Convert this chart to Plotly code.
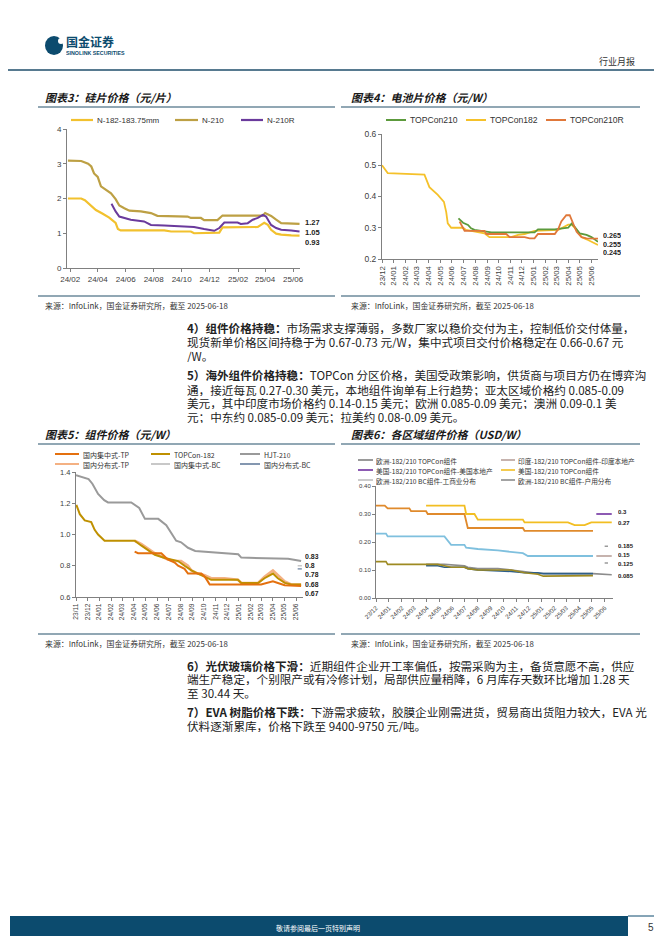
import plotly.graph_objects as go

W, H = 662, 936
def X(px): return px / W
def Y(py): return 1 - py / H

# ---------------- 图表3 硅片价格 ----------------
c3_n182_dates = ["2024-01-27","2024-02-25","2024-03-04","2024-03-18","2024-03-28","2024-04-11","2024-04-26","2024-05-10","2024-05-15","2024-05-21","2024-08-24","2024-09-08","2024-10-21","2024-10-28","2024-11-12","2024-11-19","2024-12-22","2024-12-29","2025-03-16","2025-03-23","2025-03-30","2025-04-07","2025-04-14","2025-04-25","2025-05-06","2025-05-28","2025-06-15"]
c3_n182_vals  = [2.0,2.0,1.95,1.8,1.67,1.57,1.45,1.3,1.12,1.08,1.08,1.05,1.05,1.0,1.0,1.02,1.02,1.17,1.18,1.24,1.30,1.24,1.10,0.99,0.96,0.94,0.93]
c3_n210_dates = ["2024-01-27","2024-02-25","2024-03-11","2024-03-18","2024-03-24","2024-04-01","2024-04-08","2024-04-19","2024-04-30","2024-05-10","2024-05-18","2024-05-29","2024-06-09","2024-07-04","2024-07-26","2024-08-09","2024-10-14","2024-10-21","2024-11-12","2024-11-19","2024-12-18","2024-12-29","2025-03-27","2025-04-01","2025-04-14","2025-04-25","2025-05-06","2025-06-15"]
c3_n210_vals  = [3.09,3.08,3.0,2.92,2.72,2.62,2.35,2.25,2.15,1.98,1.8,1.72,1.65,1.63,1.58,1.5,1.48,1.44,1.44,1.38,1.38,1.51,1.51,1.58,1.5,1.39,1.29,1.27]
c3_n210r_dates = ["2024-05-01","2024-05-10","2024-05-18","2024-05-29","2024-06-12","2024-07-11","2024-07-26","2024-08-24","2024-10-07","2024-10-28","2024-11-19","2024-12-11","2024-12-22","2025-01-02","2025-01-31","2025-02-07","2025-02-22","2025-03-05","2025-03-16","2025-03-27","2025-04-03","2025-04-14","2025-04-25","2025-05-06","2025-05-28","2025-06-15"]
c3_n210r_vals  = [1.85,1.63,1.48,1.44,1.39,1.34,1.24,1.22,1.20,1.18,1.12,1.07,1.15,1.31,1.31,1.27,1.29,1.39,1.44,1.53,1.48,1.24,1.15,1.10,1.08,1.05]
c3_names = ["N-182-183.75mm", "N-210", "N-210R"]
c3_end_labels = ["1.27", "1.05", "0.93"]

# ---------------- 图表4 电池片价格 ----------------
c4_t182_dates = ["2023-12-01","2023-12-16","2024-03-21","2024-03-30","2024-04-03","2024-04-25","2024-05-11","2024-05-17","2024-05-21","2024-05-30","2024-06-30","2024-07-08","2024-07-21","2024-08-25","2024-09-07","2024-11-03","2024-11-21","2024-12-08","2025-01-03","2025-03-06","2025-04-01","2025-04-10","2025-04-23","2025-05-06","2025-05-19","2025-06-01","2025-06-18"]
c4_t182_vals  = [0.50,0.475,0.47,0.445,0.43,0.405,0.383,0.35,0.314,0.30,0.30,0.293,0.29,0.282,0.27,0.27,0.277,0.28,0.29,0.293,0.31,0.31,0.293,0.27,0.263,0.255,0.245]
c4_t210_dates = ["2024-06-18","2024-06-30","2024-07-13","2024-07-21","2024-07-30","2024-08-25","2024-09-12","2025-01-03","2025-01-12","2025-02-25","2025-04-01","2025-04-10","2025-04-18","2025-05-01","2025-05-19","2025-06-01","2025-06-18"]
c4_t210_vals  = [0.33,0.316,0.309,0.298,0.293,0.287,0.285,0.285,0.295,0.295,0.30,0.313,0.303,0.282,0.277,0.27,0.255]
c4_t210r_dates = ["2024-06-21","2024-07-04","2024-08-25","2024-08-30","2024-10-21","2024-10-30","2024-12-08","2024-12-21","2025-01-03","2025-01-12","2025-02-25","2025-03-06","2025-03-14","2025-03-27","2025-04-05","2025-04-14","2025-04-23","2025-05-06","2025-05-19","2025-06-18"]
c4_t210r_vals  = [0.32,0.29,0.29,0.28,0.28,0.27,0.27,0.266,0.266,0.28,0.28,0.296,0.32,0.34,0.34,0.314,0.287,0.27,0.266,0.265]
c4_names = ["TOPCon210", "TOPCon182", "TOPCon210R"]
c4_end_labels = ["0.265", "0.255", "0.245"]

# ---------------- 图表5 组件价格 ----------------
c5_tp_c_dates = ["2024-04-03","2024-04-12","2024-06-12","2024-06-21","2024-06-29","2024-07-17","2024-07-26","2024-08-12","2024-08-21","2024-09-25","2024-10-04","2024-10-12","2024-10-17","2025-03-01","2025-03-19","2025-04-01","2025-04-14","2025-05-02","2025-06-14"]
c5_tp_c_vals  = [0.89,0.88,0.88,0.86,0.84,0.82,0.80,0.78,0.75,0.75,0.73,0.70,0.68,0.68,0.69,0.70,0.69,0.675,0.67]
c5_t182_dates = ["2023-11-02","2023-11-11","2023-11-24","2023-12-11","2023-12-20","2023-12-29","2024-01-15","2024-04-03","2024-04-20","2024-05-08","2024-05-26","2024-06-21","2024-07-08","2024-07-26","2024-08-12","2024-08-30","2024-09-16","2024-10-04","2024-10-21","2024-12-30","2025-01-08","2025-02-21","2025-03-10","2025-04-01","2025-04-14","2025-05-02","2025-05-19","2025-06-14"]
c5_t182_vals  = [1.19,1.13,1.09,1.08,1.03,1.0,0.96,0.96,0.93,0.90,0.87,0.85,0.84,0.83,0.80,0.77,0.75,0.73,0.71,0.71,0.69,0.69,0.72,0.75,0.72,0.69,0.68,0.68]
c5_hjt_dates = ["2023-11-01","2023-11-14","2023-12-04","2023-12-14","2023-12-29","2024-01-14","2024-01-24","2024-03-25","2024-04-15","2024-04-30","2024-06-04","2024-06-25","2024-07-08","2024-07-21","2024-08-03","2024-08-21","2024-09-09","2024-11-08","2024-12-31","2025-01-08","2025-05-11","2025-06-14"]
c5_hjt_vals  = [1.38,1.37,1.355,1.325,1.26,1.22,1.205,1.205,1.17,1.10,1.10,1.06,1.01,0.96,0.95,0.915,0.895,0.885,0.873,0.852,0.845,0.83]
c5_tp_d_dates = ["2024-04-03","2024-04-20","2024-05-08","2024-05-26","2024-06-12","2024-06-29","2024-07-17","2024-08-03","2024-08-21","2024-08-30","2024-09-16","2024-10-04","2024-10-21","2024-11-25","2024-12-30","2025-01-08","2025-02-21","2025-03-10","2025-04-01","2025-04-14","2025-05-02","2025-05-19","2025-06-14"]
c5_tp_d_vals  = [0.96,0.94,0.91,0.88,0.86,0.84,0.83,0.83,0.80,0.77,0.75,0.74,0.72,0.72,0.71,0.69,0.69,0.73,0.77,0.74,0.70,0.68,0.68]
c5_bc_c_dates = ["2025-06-05","2025-06-16"]
c5_bc_c_vals  = [0.80,0.80]
c5_bc_d_dates = ["2025-06-05","2025-06-16"]
c5_bc_d_vals  = [0.78,0.78]
c5_names = ["国内集中式-TP", "TOPCon-182", "HJT-210", "国内分布式-TP", "国内集中式-BC", "国内分布式-BC"]
c5_end_labels = ["0.83", "0.8", "0.78", "0.68", "0.67"]

# ---------------- 图表6 各区域组件价格 ----------------
c6_orange_dates = ["2023-12-01","2023-12-22","2023-12-29","2024-02-19","2024-02-23","2024-03-30","2024-04-03","2024-06-30","2024-07-08","2024-11-17","2024-11-21","2025-05-04"]
c6_orange_vals  = [0.33,0.33,0.32,0.32,0.31,0.31,0.30,0.30,0.25,0.25,0.24,0.24]
c6_yellow_dates = ["2024-03-30","2024-06-30","2024-07-04","2024-07-24","2024-08-01","2024-11-17","2024-11-21","2025-03-05","2025-03-21","2025-04-14","2025-04-30","2025-06-18"]
c6_yellow_vals  = [0.33,0.33,0.30,0.30,0.28,0.28,0.27,0.27,0.26,0.26,0.27,0.27]
c6_blue_dates = ["2023-12-01","2023-12-25","2023-12-29","2024-05-13","2024-05-29","2024-06-30","2024-07-04","2024-08-01","2024-09-18","2024-10-20","2024-11-17","2024-11-29","2025-05-04"]
c6_blue_vals  = [0.23,0.23,0.22,0.22,0.19,0.19,0.18,0.175,0.17,0.165,0.16,0.15,0.15]
c6_olive_dates = ["2023-12-01","2023-12-25","2023-12-29","2024-04-27","2024-05-13","2024-05-29","2024-06-30","2024-07-08","2024-08-01","2024-10-20","2024-11-21","2024-12-23","2025-01-05","2025-03-05","2025-03-13","2025-05-04"]
c6_olive_vals  = [0.13,0.13,0.12,0.12,0.115,0.11,0.11,0.105,0.10,0.10,0.09,0.085,0.078,0.078,0.08,0.08]
c6_navy_dates = ["2024-03-30","2024-04-27","2024-05-13","2024-06-30","2024-07-08","2024-08-01","2024-10-20","2024-11-21","2024-12-23","2025-01-05","2025-05-04"]
c6_navy_vals  = [0.115,0.115,0.11,0.11,0.105,0.10,0.095,0.09,0.09,0.087,0.087]
c6_grey_dates = ["2024-03-30","2024-05-13","2024-06-30","2024-07-08","2024-08-01","2024-09-18","2024-10-20","2024-11-21","2024-12-23","2025-05-04","2025-06-18"]
c6_grey_vals  = [0.12,0.12,0.115,0.11,0.105,0.105,0.10,0.095,0.088,0.087,0.083]
c6_us_local_dates = ["2025-05-12","2025-06-18"]
c6_us_local_vals  = [0.30,0.30]
c6_in_local_dates = ["2025-05-12","2025-06-18"]
c6_in_local_vals  = [0.15,0.15]
c6_dash1_dates = ["2025-06-01","2025-06-09"]
c6_dash1_vals  = [0.185,0.185]
c6_dash2_dates = ["2025-06-01","2025-06-09"]
c6_dash2_vals  = [0.125,0.125]
c6_names = ["欧洲-182/210 TOPCon组件", "印度-182/210 TOPCon组件-印度本地产",
            "美国-182/210 TOPCon组件-美国本地产", "美国-182/210 TOPCon组件",
            "欧洲-182/210 BC组件-工商业分布", "欧洲-182/210 BC组件-户用分布"]
c6_end_labels = ["0.3", "0.27", "0.185", "0.15", "0.125", "0.085"]

SOURCE = "来源：InfoLink，国金证券研究所，截至 2025-06-18"

# ---------------- figure ----------------
fig = go.Figure()
CJK = "Noto Sans CJK SC"
LAT = "Liberation Sans, Arial"

def line(xs, ys, color, width, ax):
    fig.add_trace(go.Scatter(x=xs, y=ys, mode="lines", line=dict(color=color, width=width),
                             xaxis="x" + ax, yaxis="y" + ax, showlegend=False, hoverinfo="skip"))

C3 = ["#F2C12E", "#BDA044", "#6A3A9C"]
line(c3_n210_dates, c3_n210_vals, C3[1], 2.2, "")
line(c3_n182_dates, c3_n182_vals, C3[0], 2.2, "")
line(c3_n210r_dates, c3_n210r_vals, C3[2], 2.0, "")

C4 = ["#5C9A3C", "#F5C12A", "#E0783A"]
line(c4_t182_dates, c4_t182_vals, C4[1], 1.8, "2")
line(c4_t210_dates, c4_t210_vals, C4[0], 1.8, "2")
line(c4_t210r_dates, c4_t210r_vals, C4[2], 1.8, "2")

C5 = ["#E4700E", "#BF9000", "#9A9A9A", "#F4B183", "#C8C8C8", "#8497B0"]
line(c5_hjt_dates, c5_hjt_vals, C5[2], 2.0, "3")
line(c5_tp_d_dates, c5_tp_d_vals, C5[3], 2.6, "3")
line(c5_t182_dates, c5_t182_vals, C5[1], 2.0, "3")
line(c5_tp_c_dates, c5_tp_c_vals, C5[0], 2.0, "3")
line(c5_bc_c_dates, c5_bc_c_vals, C5[4], 1.5, "3")
line(c5_bc_d_dates, c5_bc_d_vals, C5[5], 1.5, "3")

C6 = ["#808080", "#B8A09A", "#7030A0", "#F2BE22", "#BFBFBF", "#8C8C8C"]
line(c6_orange_dates, c6_orange_vals, "#E08A2C", 1.8, "4")
line(c6_yellow_dates, c6_yellow_vals, "#F2BE22", 1.8, "4")
line(c6_blue_dates, c6_blue_vals, "#7FC0DE", 1.8, "4")
line(c6_grey_dates, c6_grey_vals, "#8C8C8C", 1.6, "4")
line(c6_navy_dates, c6_navy_vals, "#2E5F8A", 1.6, "4")
line(c6_olive_dates, c6_olive_vals, "#9E8A22", 1.6, "4")
line(c6_us_local_dates, c6_us_local_vals, "#7030A0", 1.6, "4")
line(c6_in_local_dates, c6_in_local_vals, "#B8A09A", 1.6, "4")
line(c6_dash1_dates, c6_dash1_vals, "#808080", 1.2, "4")
line(c6_dash2_dates, c6_dash2_vals, "#808080", 1.2, "4")

def axis(**kw):
    base = dict(showgrid=False, zeroline=False, showline=True, linecolor="#808080", linewidth=1,
                ticks="outside", ticklen=3, tickcolor="#808080", automargin=False,
                tickfont=dict(family=LAT, size=8, color="#404040"), fixedrange=True)
    base.update(kw)
    return base

fig.update_layout(
    width=W, height=H, margin=dict(l=0, r=0, t=0, b=0), template="none",
    paper_bgcolor="white", plot_bgcolor="rgba(0,0,0,0)", font=dict(family=LAT),
    xaxis=axis(domain=[X(59), X(292)], anchor="y", type="date", range=["2024-01-25", "2025-06-16"],
               tick0="2024-02-01", dtick="M2", tickformat="%y/%m"),
    yaxis=axis(domain=[Y(260), Y(121)], anchor="x", range=[0, 4], dtick=1),
    xaxis2=axis(domain=[X(374), X(590)], anchor="y2", type="date", range=["2023-12-01", "2025-06-18"],
                tick0="2023-12-01", dtick="M1", tickformat="%y/%m", tickangle=-90,
                tickfont=dict(family=LAT, size=7.8, color="#404040")),
    yaxis2=axis(domain=[Y(251), Y(126)], anchor="x2", range=[0.2, 0.6], dtick=0.1, tickformat=".1f",
                tickfont=dict(family=LAT, size=8.5, color="#404040")),
    xaxis3=axis(domain=[X(68), X(295)], anchor="y3", type="date", range=["2023-11-01", "2025-06-19"],
                tick0="2023-11-01", dtick="M1", tickformat="%y/%m", tickangle=-90,
                tickfont=dict(family=LAT, size=6.6, color="#404040")),
    yaxis3=axis(domain=[Y(589), Y(464)], anchor="x3", range=[0.6, 1.4], dtick=0.2, tickformat=".1f",
                tickfont=dict(family=LAT, size=7.5, color="#404040")),
    xaxis4=axis(domain=[X(368), X(605)], anchor="y4", type="date", range=["2023-12-01", "2025-06-21"],
                tick0="2023-12-01", dtick="M1", tickformat="%y/%m", tickangle=-45,
                tickfont=dict(family=LAT, size=6.2, color="#404040")),
    yaxis4=axis(domain=[Y(590), Y(478)], anchor="x4", range=[0, 0.4], dtick=0.1, tickformat=".2f",
                tickfont=dict(family=LAT, size=6, color="#404040")),
)

ann = []
shapes = []
def text(px, py, s, size, color="#333333", family=CJK, anchor="left", h=None):
    a = dict(x=X(px), y=Y(py), xref="paper", yref="paper", text=s, showarrow=False, borderpad=0,
             xanchor=anchor, yanchor="middle", font=dict(family=family, size=size, color=color))
    if h is not None:
        a["height"] = h
        a["valign"] = "middle"
    ann.append(a)
def hline(x0, x1, py, color, width):
    shapes.append(dict(type="line", xref="paper", yref="paper", x0=X(x0), x1=X(x1), y0=Y(py), y1=Y(py),
                       line=dict(color=color, width=width)))

NAVY = "#0C4B6E"
# header
shapes.append(dict(type="circle", xref="paper", yref="paper", x0=X(37), x1=X(55), y0=Y(47), y1=Y(28),
                   fillcolor=NAVY, line=dict(width=0)))
shapes.append(dict(type="circle", xref="paper", yref="paper", x0=X(50), x1=X(56), y0=Y(36), y1=Y(30),
                   fillcolor="white", line=dict(width=0)))
text(57, 34, "<b>国金证券</b>", 12, NAVY, CJK, "left", 13)
text(57, 45.5, "<b>SINOLINK SECURITIES</b>", 5.3, NAVY, LAT, "left", 6.5)
text(628, 53, "行业月报", 9, "#333333", CJK, "right")
hline(0, 662, 62, "#1F4E6B", 1.5)

# chart titles & separators
TEAL = "#24506A"
text(36, 89, "<b><i>图表3：硅片价格（元/片）</i></b>", 11, "#1a1a1a")
text(342, 89, "<b><i>图表4：电池片价格（元/W）</i></b>", 11, "#1a1a1a")
hline(30, 327, 99, TEAL, 1.2)
hline(333, 632, 99, TEAL, 1.2)
hline(30, 327, 288, TEAL, 1.2)
hline(333, 632, 288, TEAL, 1.2)
text(36, 297, SOURCE, 7.9, "#333333")
text(342, 297, SOURCE, 7.9, "#333333")

text(36, 426, "<b><i>图表5：组件价格（元/W）</i></b>", 11, "#1a1a1a")
text(342, 426, "<b><i>图表6：各区域组件价格（USD/W）</i></b>", 11, "#1a1a1a")
hline(30, 327, 436, TEAL, 1.2)
hline(333, 632, 436, TEAL, 1.2)
hline(30, 327, 626, TEAL, 1.2)
hline(333, 632, 626, TEAL, 1.2)
text(36, 635, SOURCE, 7.9, "#333333")
text(342, 635, SOURCE, 7.9, "#333333")

# legends chart 3
leg3 = [(63, 85, 88), (167, 190, 193), (233, 255, 258)]
for (a, b, t), n, c in zip(leg3, c3_names, C3):
    hline(a, b, 112, c, 2.2)
    text(t, 112, n, 8, "#333333", LAT)
# legends chart 4
leg4 = [(378, 398, 401), (458, 478, 481), (538, 558, 561)]
for (a, b, t), n, c in zip(leg4, c4_names, C4):
    hline(a, b, 112, c, 2.0)
    text(t, 112, n, 8.6, "#333333", LAT)
# legends chart 5
leg5 = [(47, 71, 74, 446), (143, 162, 165, 446), (232, 252, 255, 446),
        (47, 71, 74, 456), (143, 162, 165, 456), (232, 252, 255, 456)]
for (a, b, t, yy), n, c in zip(leg5, c5_names, C5):
    hline(a, b, yy, c, 2.0)
    text(t, yy, n, 7, "#333333", CJK, "left", 9)
# legends chart 6
leg6 = [(350, 365, 367, 452), (493, 507, 509, 452), (350, 365, 367, 462),
        (493, 507, 509, 462), (350, 365, 367, 472), (493, 507, 509, 472)]
for (a, b, t, yy), n, c in zip(leg6, c6_names, C6):
    hline(a, b, yy, c, 1.6)
    text(t, yy, n, 6.7, "#333333", CJK, "left", 9)

# end labels
for s, yy in zip(c3_end_labels, [215, 224.5, 234]):
    text(296, yy, "<b>" + s + "</b>", 7.6, "#222222", LAT, "left", 8.5)
for s, yy in zip(c4_end_labels, [227, 235.5, 244]):
    text(594, yy, "<b>" + s + "</b>", 7.2, "#222222", LAT, "left", 8)
for s, yy in zip(c5_end_labels, [547.5, 556.5, 565.5, 576, 584.5]):
    text(296, yy, "<b>" + s + "</b>", 7, "#222222", LAT, "left", 8)
for s, yy in zip(c6_end_labels, [504, 515, 538, 547, 556, 568]):
    text(609, yy, "<b>" + s + "</b>", 6, "#222222", LAT, "left", 8)

# paragraphs
P = 11.6
para = [
    (319, "<b>4）组件价格持稳：</b>市场需求支撑薄弱，多数厂家以稳价交付为主，控制低价交付体量，"),
    (333, "现货新单价格区间持稳于为 0.67-0.73 元/W，集中式项目交付价格稳定在 0.66-0.67 元"),
    (347, "/W。"),
    (367, "<b>5）海外组件价格持稳：</b>TOPCon 分区价格，美国受政策影响，供货商与项目方仍在博弈沟"),
    (381, "通，接近每瓦 0.27-0.30 美元，本地组件询单有上行趋势；亚太区域价格约 0.085-0.09"),
    (394.5, "美元，其中印度市场价格约 0.14-0.15 美元；欧洲 0.085-0.09 美元；澳洲 0.09-0.1 美"),
    (408, "元；中东约 0.085-0.09 美元；拉美约 0.08-0.09 美元。"),
    (657, "<b>6）光伏玻璃价格下滑：</b>近期组件企业开工率偏低，按需采购为主，备货意愿不高，供应"),
    (670.5, "端生产稳定，个别限产或有冷修计划，局部供应量稍降，6 月库存天数环比增加 1.28 天"),
    (684, "至 30.44 天。"),
    (703.5, "<b>7）EVA 树脂价格下跌：</b>下游需求疲软，胶膜企业刚需进货，贸易商出货阻力较大，EVA 光"),
    (717, "伏料逐渐累库，价格下跌至 9400-9750 元/吨。"),
]
for yy, s in para:
    text(178, yy, s, P, "#222222", CJK, "left", 13)

# footer
shapes.append(dict(type="rect", xref="paper", yref="paper", x0=X(2), x1=X(620), y0=Y(931), y1=Y(908),
                   fillcolor=NAVY, line=dict(width=0)))
hline(620, 662, 908, NAVY, 1)
text(310, 919.5, "敬请参阅最后一页特别声明", 7, "white", CJK, "center")
text(643, 919.5, "5", 10, "#333333", LAT, "center")

fig.update_layout(annotations=ann, shapes=shapes)
fig.write_html("out.html")
